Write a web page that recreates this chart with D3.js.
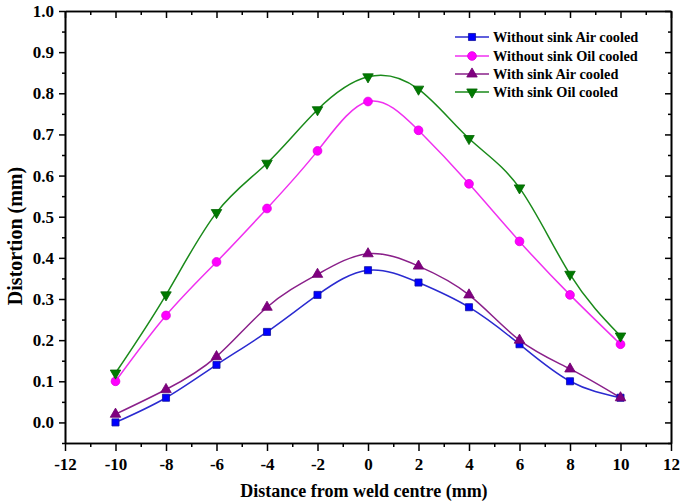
<!DOCTYPE html>
<html>
<head>
<meta charset="utf-8">
<script src="https://cdn.jsdelivr.net/npm/d3@7"></script>
<style>
  html, body { margin: 0; padding: 0; background: #fff; }
  svg { display: block; font-family: "Liberation Serif", "Times New Roman", serif; }
</style>
</head>
<body>
<svg id="chart" width="685" height="504"></svg>
<script>
// ---- data ----
const distances = [-10, -8, -6, -4, -2, 0, 2, 4, 6, 8, 10];
const withoutSinkAir = [0.00, 0.06, 0.14, 0.22, 0.31, 0.37, 0.34, 0.28, 0.19, 0.10, 0.06];
const withoutSinkOil = [0.10, 0.26, 0.39, 0.52, 0.66, 0.78, 0.71, 0.58, 0.44, 0.31, 0.19];
const withSinkAir    = [0.02, 0.08, 0.16, 0.28, 0.36, 0.41, 0.38, 0.31, 0.20, 0.13, 0.06];
const withSinkOil    = [0.12, 0.31, 0.51, 0.63, 0.76, 0.84, 0.81, 0.69, 0.57, 0.36, 0.21];
const seriesNames = ["Without sink Air cooled", "Without sink Oil cooled", "With sink Air cooled", "With sink Oil cooled"];
const xTicks = [-12, -10, -8, -6, -4, -2, 0, 2, 4, 6, 8, 10, 12];
const xMinorTicks = [-11, -9, -7, -5, -3, -1, 1, 3, 5, 7, 9, 11];
const yTicks = [0.0, 0.1, 0.2, 0.3, 0.4, 0.5, 0.6, 0.7, 0.8, 0.9, 1.0];
const yMinorTicks = [-0.05, 0.05, 0.15, 0.25, 0.35, 0.45, 0.55, 0.65, 0.75, 0.85, 0.95];
const xTitle = "Distance from weld centre (mm)";
const yTitle = "Distortion (mm)";

// ---- styles ----
const styles = [
  { line: "#2a2ad0", fill: "#0000ff", stroke: "#1010a0", symbol: d3.symbolSquare, size: 50 },
  { line: "#f030f0", fill: "#ff00ff", stroke: "#e000e0", symbol: d3.symbolCircle, size: 60 },
  { line: "#8a208a", fill: "#800080", stroke: "#700070", symbol: d3.symbolTriangle, size: 48, rot: 0 },
  { line: "#1a8a1a", fill: "#007a00", stroke: "#006400", symbol: d3.symbolTriangle, size: 48, rot: 180 }
];
const allSeries = [withoutSinkAir, withoutSinkOil, withSinkAir, withSinkOil];

const svg = d3.select("#chart");
const x = d3.scaleLinear().domain([-12, 12]).range([65, 671]);
const y = d3.scaleLinear().domain([-0.05, 1.0]).range([443, 11]);

const fontTick = "17px";
function styleAxis(g) {
  g.selectAll("path.domain").attr("stroke", "#000").attr("stroke-width", 1.6);
  g.selectAll(".tick line").attr("stroke", "#000").attr("stroke-width", 1.5);
  g.selectAll("text").attr("fill", "#000").attr("font-size", fontTick).attr("font-weight", "bold")
    .attr("font-family", "'Liberation Serif', 'Times New Roman', serif");
}

// bottom axis
svg.append("g").attr("transform", "translate(0,443)")
  .call(d3.axisBottom(x).tickValues(xMinorTicks).tickSize(4).tickSizeOuter(0).tickFormat(""))
  .call(styleAxis);
const bx = svg.append("g").attr("transform", "translate(0,443)")
  .call(d3.axisBottom(x).tickValues(xTicks).tickSize(8).tickSizeOuter(0).tickFormat(d => String(d)))
  .call(styleAxis);
bx.selectAll("text").attr("y", 27).attr("dy", null);

// top axis (inward)
svg.append("g").attr("transform", "translate(0,11)")
  .call(d3.axisTop(x).tickValues(xMinorTicks).tickSize(-4).tickSizeOuter(0).tickFormat(""))
  .call(styleAxis);
svg.append("g").attr("transform", "translate(0,11)")
  .call(d3.axisTop(x).tickValues(xTicks).tickSize(-7).tickSizeOuter(0).tickFormat(""))
  .call(styleAxis);

// left axis
svg.append("g").attr("transform", "translate(65,0)")
  .call(d3.axisLeft(y).tickValues(yMinorTicks).tickSize(3).tickSizeOuter(0).tickFormat(""))
  .call(styleAxis);
svg.append("g").attr("transform", "translate(65,0)")
  .call(d3.axisLeft(y).tickValues(yTicks).tickSize(6).tickPadding(5).tickSizeOuter(0).tickFormat(d3.format(".1f")))
  .call(styleAxis);

// right axis (inward)
svg.append("g").attr("transform", "translate(671,0)")
  .call(d3.axisRight(y).tickValues(yMinorTicks).tickSize(-3).tickSizeOuter(0).tickFormat(""))
  .call(styleAxis);
svg.append("g").attr("transform", "translate(671,0)")
  .call(d3.axisRight(y).tickValues(yTicks).tickSize(-6).tickSizeOuter(0).tickFormat(""))
  .call(styleAxis);

// axis titles
svg.append("text").attr("x", 364).attr("y", 497).attr("text-anchor", "middle")
  .attr("font-size", "18px").attr("font-weight", "bold").text(xTitle);
svg.append("text").attr("transform", "translate(22,236) rotate(-90)").attr("text-anchor", "middle")
  .attr("font-size", "20px").attr("font-weight", "bold").text(yTitle);

// series
const line = d3.line().x((d, i) => x(distances[i])).y(d => y(d)).curve(d3.curveNatural);
allSeries.forEach((vals, si) => {
  const st = styles[si];
  svg.append("path").datum(vals).attr("d", line)
    .attr("fill", "none").attr("stroke", st.line).attr("stroke-width", 1.5);
});
allSeries.forEach((vals, si) => {
  const st = styles[si];
  const sym = d3.symbol().type(st.symbol).size(st.size);
  svg.append("g").selectAll("path").data(vals).join("path")
    .attr("d", sym)
    .attr("transform", (d, i) => `translate(${x(distances[i])},${y(d)})` + (st.rot ? ` rotate(${st.rot})` : ""))
    .attr("fill", st.fill).attr("stroke", st.stroke).attr("stroke-width", 0.8);
});

// legend
const legend = svg.append("g");
const legendY = [37, 56, 74, 92];
seriesNames.forEach((name, i) => {
  const st = styles[i];
  const g = legend.append("g").attr("transform", `translate(0,${legendY[i]})`);
  g.append("line").attr("x1", 455).attr("x2", 489).attr("y1", 0).attr("y2", 0)
    .attr("stroke", st.line).attr("stroke-width", 1.5);
  g.append("path").attr("d", d3.symbol().type(st.symbol).size(st.size)())
    .attr("transform", `translate(472,0)` + (st.rot ? ` rotate(${st.rot})` : ""))
    .attr("fill", st.fill).attr("stroke", st.stroke).attr("stroke-width", 0.8);
  g.append("text").attr("x", 493).attr("y", 0).attr("dy", "0.35em")
    .attr("font-size", "14.3px").attr("font-weight", "bold").attr("fill", "#000").text(name);
});
</script>
</body>
</html>
